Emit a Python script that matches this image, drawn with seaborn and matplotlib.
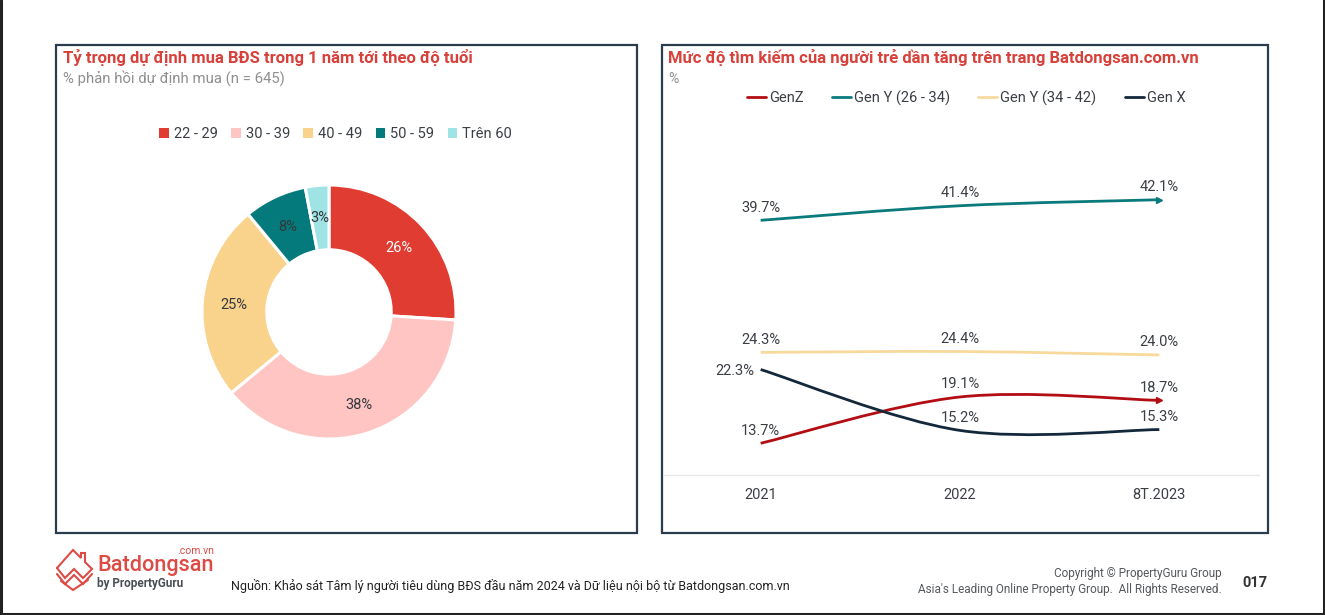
import matplotlib
matplotlib.use("Agg")
import matplotlib.pyplot as plt
import pandas as pd
import seaborn as sns
from matplotlib.lines import Line2D
from matplotlib.patches import Patch, PathPatch, Rectangle
from matplotlib.path import Path

# Left chart data
age_groups = ["22 - 29", "30 - 39", "40 - 49", "50 - 59", "Trên 60"]
age_shares = [26, 38, 25, 8, 3]
age_colors = ["#e03c31", "#fec5c3", "#f9d28c", "#047a7c", "#9fe3e4"]

# Right chart data
periods = ["2021", "2022", "8T.2023"]
genz = [13.7, 19.1, 18.7]
gen_y_young = [39.7, 41.4, 42.1]
gen_y_old = [24.3, 24.4, 24.0]
gen_x = [22.3, 15.2, 15.3]
series_names = ["GenZ", "Gen Y (26 - 34)", "Gen Y (34 - 42)", "Gen X"]
series_colors = ["#b30d14", "#0b7a7c", "#f8d99c", "#14283c"]

W, H = 1325, 615
RED = "#d8403a"
DARK = "#3b3f45"
NAVY = "#2a3c4e"

sns.set_style("white")
plt.rcParams["font.family"] = ["Roboto", "DejaVu Sans"]

fig = plt.figure(figsize=(W / 100, H / 100), dpi=100, facecolor="white")


def px_axes(left, top, right, bottom, **kwargs):
    # axes placed with image pixel coordinates
    return fig.add_axes(
        [left / W, 1 - bottom / H, (right - left) / W, (bottom - top) / H], **kwargs
    )


# Overlay in pixel coordinates for frames, titles and footer
bg = px_axes(0, 0, W, H)
bg.set_xlim(0, W)
bg.set_ylim(H, 0)
bg.axis("off")

# screenshot edge: left, bottom and right only
bg.plot([1, 1, W - 1.5, W - 1.5], [0, H - 1.5, H - 1.5, 0], color="#222222", lw=2.2)
for x0, x1 in [(56, 637), (662, 1268)]:
    bg.add_patch(Rectangle((x0, 45), x1 - x0, 488, fc="white", ec=NAVY, lw=1.6))

bg.text(63, 58, "Tỷ trọng dự định mua BĐS trong 1 năm tới theo độ tuổi",
        color=RED, fontsize=12, fontweight="bold", va="center")
bg.text(63, 78, "% phản hồi dự định mua (n = 645)", color="#8f8f8f", fontsize=10.7, va="center")
bg.text(668, 58, "Mức độ tìm kiếm của người trẻ dần tăng trên trang Batdongsan.com.vn",
        color=RED, fontsize=12, fontweight="bold", va="center")
bg.text(668, 79, "%", color="#8f8f8f", fontsize=10, va="center")

# Donut chart
ax_pie = px_axes(329 - 140, 312 - 140, 329 + 140, 312 + 140)
wedges, _, pct_texts = ax_pie.pie(
    age_shares,
    colors=age_colors,
    startangle=90,
    counterclock=False,
    radius=1,
    autopct="%.0f%%",
    pctdistance=0.755,
    wedgeprops={"width": 0.51, "edgecolor": "white", "linewidth": 2.2},
    textprops={"fontsize": 10.5, "color": "#33383d"},
)
pct_texts[0].set_color("white")
for t in pct_texts:
    t.set_y(t.get_position()[1] - 0.012)
ax_pie.set_xlim(-140 / 127, 140 / 127)
ax_pie.set_ylim(-140 / 127, 140 / 127)

pie_handles = [Patch(facecolor=c, edgecolor="none") for c in age_colors]
bg.legend(
    pie_handles, age_groups, loc="center", bbox_to_anchor=(335.5 / W, 1 - 134 / H),
    bbox_transform=fig.transFigure, ncol=5, frameon=False, fontsize=10.5,
    handlelength=0.65, handleheight=0.65, handletextpad=0.35, columnspacing=0.92,
    labelcolor=DARK,
)

# Line chart
df = pd.DataFrame({
    "period": periods * 4,
    "value": genz + gen_y_young + gen_y_old + gen_x,
    "series": [name for name in series_names for _ in periods],
})
ax_line = px_axes(661, 132, 1259, 475)
ax_line.patch.set_alpha(0)
sns.lineplot(data=df, x="period", y="value", hue="series", palette=series_colors,
             linewidth=2, ax=ax_line)
ax_line.set_xlim(-0.5, 2.5)
ax_line.set_ylim(10, 50)
ax_line.set_yticks([])
ax_line.set_xlabel("")
ax_line.set_ylabel("")
ax_line.tick_params(axis="x", length=0, pad=9.5, labelsize=10.5, labelcolor=DARK)
for side in ["top", "left", "right"]:
    ax_line.spines[side].set_visible(False)
ax_line.spines["bottom"].set_color("#e8e8e8")
ax_line.spines["bottom"].set_linewidth(1)
ax_line.spines["bottom"].set_bounds(-0.485, 2.5)


def smooth_path(points):
    # bezier stroke through the values, like a smoothed office chart line
    verts = [points[0]]
    codes = [Path.MOVETO]
    n = len(points)
    for i in range(n - 1):
        p0, p1 = points[max(i - 1, 0)], points[i]
        p2, p3 = points[i + 1], points[min(i + 2, n - 1)]
        verts.append((p1[0] + (p2[0] - p0[0]) / 6, p1[1] + (p2[1] - p0[1]) / 6))
        verts.append((p2[0] - (p3[0] - p1[0]) / 6, p2[1] - (p3[1] - p1[1]) / 6))
        verts.append(tuple(p2))
        codes += [Path.CURVE4] * 3
    return Path(verts, codes)


# swap the straight seaborn lines for smoothed strokes
for line, color in zip(list(ax_line.get_lines())[:4], series_colors):
    xy = line.get_xydata()
    line.set_visible(False)
    ax_line.add_patch(PathPatch(smooth_path(xy), fc="none", ec=color, lw=2, capstyle="butt"))

# arrow heads on the two series that have them
ax_line.plot(2, genz[-1], marker=">", ms=5, color=series_colors[0], clip_on=False)
ax_line.plot(2, gen_y_young[-1], marker=">", ms=5, color=series_colors[1], clip_on=False)

for values in [genz, gen_y_young, gen_y_old, gen_x]:
    for i, v in enumerate(values):
        dx, dy = (0, 12.5)
        if values is gen_x and i == 0:
            dx, dy = (-26, -1)
        ax_line.annotate(f"{v:.1f}%", (i, v), xytext=(dx, dy), textcoords="offset pixels",
                         ha="center", va="center", fontsize=10.5, color=DARK)

line_handles = [Line2D([], [], color=c, lw=2) for c in series_colors]
ax_line.legend(
    line_handles, series_names, loc="center", bbox_to_anchor=(966 / W, 1 - 98 / H),
    bbox_transform=fig.transFigure, ncol=4, frameon=False, fontsize=10.5,
    handlelength=1.3, handletextpad=0.2, columnspacing=1.95, labelcolor=DARK,
)

# Footer
logo_lines = [
    [(57, 568), (73, 550), (81, 558), (81, 553), (85, 553), (85, 562), (92, 569), (83, 578), (74, 569), (65, 578), (57, 568)],
    [(57, 574), (65, 584), (74, 575), (83, 584), (92, 574)],
    [(61, 581), (73, 590), (88, 580)],
]
for pts in logo_lines:
    bg.plot([p[0] for p in pts], [p[1] for p in pts], color="#dd4b45", lw=1.5, solid_joinstyle="miter")
bg.text(97, 566, "Batdongsan", color="#dd4b45", fontsize=15.6, fontweight="medium", va="center")
bg.text(214, 551, ".com.vn", color="#dd4b45", fontsize=7.5, ha="right", va="center")
bg.text(97, 583, "by PropertyGuru", color="#4a4f55", fontsize=8.5, fontweight="bold", va="center")
bg.text(231, 586, "Nguồn: Khảo sát Tâm lý người tiêu dùng BĐS đầu năm 2024 và Dữ liệu nội bộ từ Batdongsan.com.vn",
        color="#222222", fontsize=9, va="center")
bg.text(1222, 574, "Copyright © PropertyGuru Group", color="#55595e", fontsize=8.5, ha="right", va="center")
bg.text(1222, 589, "Asia's Leading Online Property Group.  All Rights Reserved.", color="#55595e",
        fontsize=8.5, ha="right", va="center")
bg.text(1255, 583, "017", color="#333333", fontsize=10.5, fontweight="bold", ha="center", va="center")

fig.savefig("out.png", dpi=100, facecolor="white")
